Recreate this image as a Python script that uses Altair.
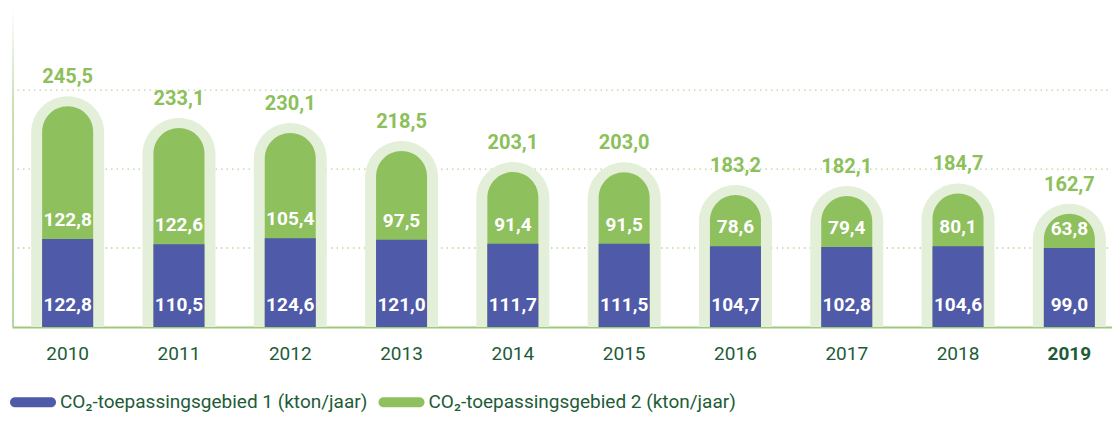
import altair as alt
import pandas as pd

years = ["2010", "2011", "2012", "2013", "2014", "2015", "2016", "2017", "2018", "2019"]
gebied1 = [122.8, 110.5, 124.6, 121.0, 111.7, 111.5, 104.7, 102.8, 104.6, 99.0]
gebied2 = [122.8, 122.6, 105.4, 97.5, 91.4, 91.5, 78.6, 79.4, 80.1, 63.8]
totaal = [245.5, 233.1, 230.1, 218.5, 203.1, 203.0, 183.2, 182.1, 184.7, 162.7]
series_names = ["CO₂-toepassingsgebied 1 (kton/jaar)", "CO₂-toepassingsgebied 2 (kton/jaar)"]
grid_levels = [1, 2, 3]

df = pd.DataFrame({"jaar": years, "g1": gebied1, "g2": gebied2, "tot": totaal})
grid_df = pd.DataFrame({"level": grid_levels})
edge_df = pd.DataFrame({"level": [0]})

BLUE = "#4f5aa8"
GREEN = "#8fc05e"
HALO = "#e4efd9"
DARK = "#1d5c37"
TOTC = "#8cc05a"
FONT = "Roboto, Liberation Sans, sans-serif"

yscale = alt.Scale(type="pow", exponent=3, domain=[-188.7, 289.9], nice=False, zero=False)
xscale = alt.Scale(range=[0, 1113], paddingInner=0, paddingOuter=0)

x_enc = alt.X(
    "jaar:N", sort=years, scale=xscale, title=None,
    axis=alt.Axis(
        labelAngle=0, ticks=False, tickSize=0, labelPadding=17,
        labelFont=FONT, labelFontSize=19, labelColor=DARK,
        labelFontWeight={"condition": {"test": "datum.value == '2019'", "value": "bold"}, "value": "normal"},
        domainColor="#9fca7e", domainWidth=2, grid=False,
    ),
)

color_scale = alt.Scale(domain=series_names, range=[BLUE, GREEN])
PILL = ("M-1.895,-0.526 L1.895,-0.526 A0.526,0.526 0 0 1 1.895,0.526 "
        "L-1.895,0.526 A0.526,0.526 0 0 1 -1.895,-0.526 Z")
legend = alt.Legend(
    orient="none", legendX=11.5, legendY=384.5, direction="horizontal", title=None,
    symbolType=PILL, symbolSize=361, symbolStrokeWidth=0, symbolOpacity=1,
    labelFont=FONT, labelFontSize=19, labelColor=DARK, labelOffset=17.5,
    columnPadding=10.5, padding=0, labelLimit=500,
)

base = alt.Chart(df).encode(x=x_enc)

grid = alt.Chart(grid_df).mark_rule(color="#b7d69c", strokeDash=[1.5, 4], strokeWidth=1.4).encode(
    y=alt.Y("level:Q", scale=alt.Scale(domain=[0, 4.04], nice=False, zero=False), axis=None),
    x=alt.value(0), x2=alt.value("width"),
)

gradient = {
    "gradient": "linear", "x1": 0, "y1": 0, "x2": 0, "y2": 1,
    "stops": [{"offset": 0, "color": "#ffffff"}, {"offset": 0.3, "color": "#c9e0b5"}, {"offset": 1, "color": "#b8d79e"}],
}
edge = alt.Chart(edge_df).mark_rect(fill=gradient).encode(
    x=alt.value(0), x2=alt.value(2), y=alt.value(0), y2=alt.value("height"),
)

halo = base.mark_bar(size=73, color=HALO, cornerRadiusTopLeft=36.5, cornerRadiusTopRight=36.5, yOffset=-10).encode(
    y=alt.Y("tot:Q", scale=yscale, axis=None, stack=None), y2=alt.value("height"),
)
green = base.transform_calculate(serie="'" + series_names[1] + "'").mark_bar(
    size=51, cornerRadiusTopLeft=25.5, cornerRadiusTopRight=25.5
).encode(
    y=alt.Y("tot:Q", scale=yscale, axis=None, stack=None), y2=alt.value("height"),
    color=alt.Color("serie:N", scale=color_scale, legend=legend),
)
blue = base.transform_calculate(serie="'" + series_names[0] + "'").mark_bar(size=51).encode(
    y=alt.Y("g1:Q", scale=yscale, axis=None, stack=None), y2=alt.value("height"),
    color=alt.Color("serie:N", scale=color_scale, legend=legend),
)

lbl = lambda f: "replace(format(datum." + f + ", '.1f'), '.', ',')"

t_blue = base.transform_calculate(lab=lbl("g1")).mark_text(
    font=FONT, fontSize=19, fontWeight="bold", color="white", baseline="middle", dy=-22
).encode(y=alt.value("height"), text="lab:N")
t_green = base.transform_calculate(lab=lbl("g2")).mark_text(
    font=FONT, fontSize=19, fontWeight="bold", color="white", baseline="middle", dy=-19
).encode(y=alt.Y("g1:Q", scale=yscale, axis=None), text="lab:N")
t_tot = base.transform_calculate(lab=lbl("tot")).mark_text(
    font=FONT, fontSize=20, fontWeight="bold", color=TOTC, baseline="middle", dy=-29
).encode(y=alt.Y("tot:Q", scale=yscale, axis=None), text="lab:N")

chart = alt.layer(grid, edge, halo, green, blue, t_blue, t_green, t_tot).resolve_scale(
    y="independent"
).properties(
    width=1100, height=319,
    padding={"left": 4, "top": 0, "right": 0, "bottom": 86},
    autosize=alt.AutoSizeParams(type="none"),
).configure_view(stroke=None)

chart.save("out.html", embed_options={"renderer": "svg", "actions": False})
